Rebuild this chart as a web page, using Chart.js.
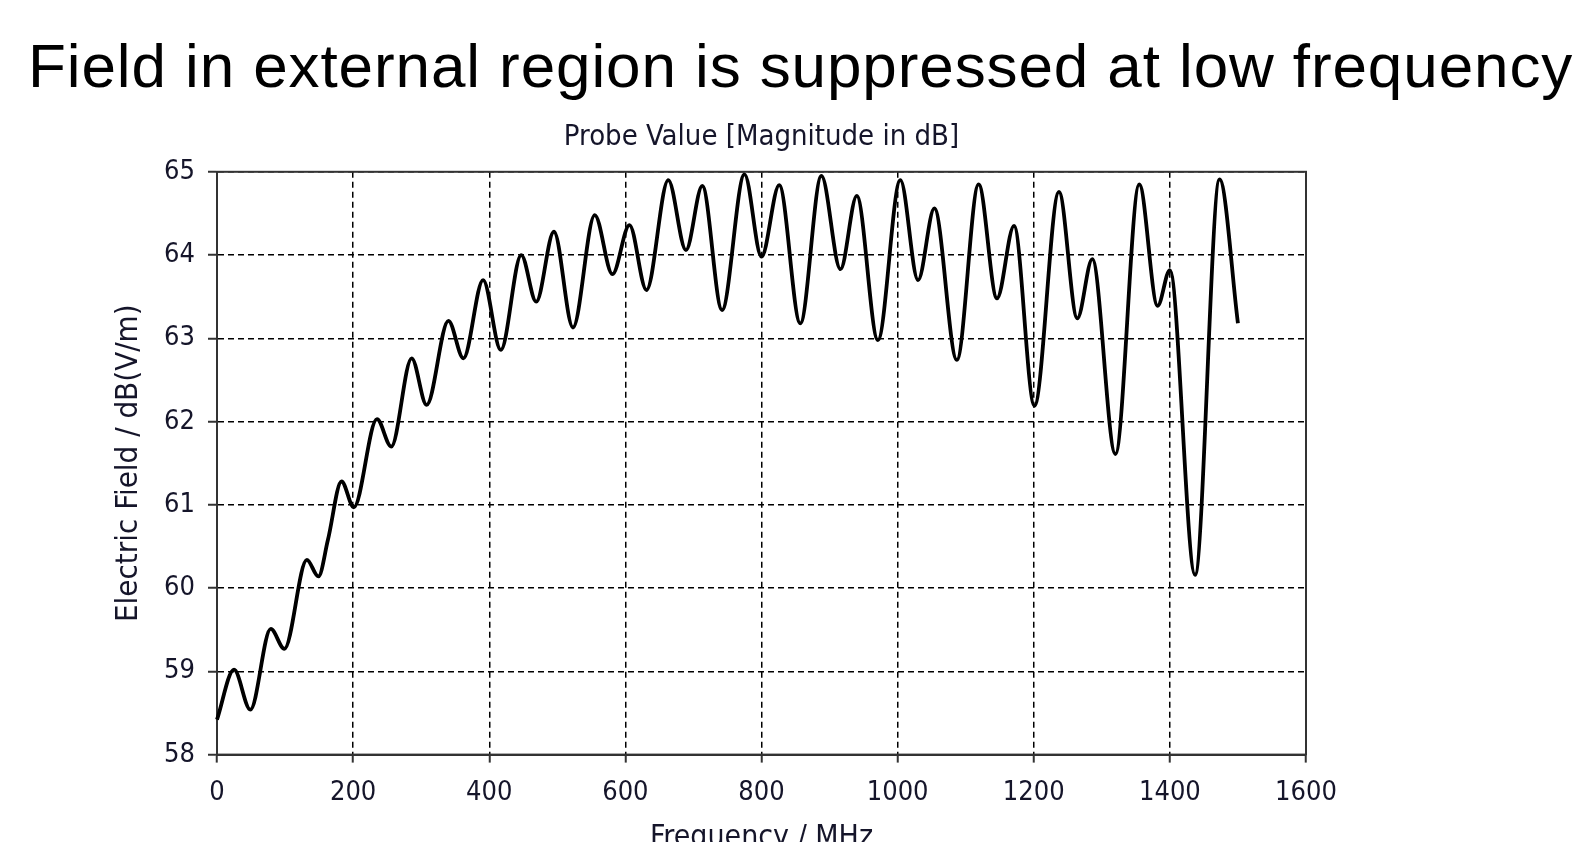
<!DOCTYPE html>
<html>
<head>
<meta charset="utf-8">
<script src="https://cdn.jsdelivr.net/npm/chart.js@4.4.1/dist/chart.umd.min.js"></script>
<style>
  html, body { margin: 0; padding: 0; background: #fff; overflow: hidden; }
  body { width: 1584px; height: 842px; position: relative; }
  #heading {
    position: absolute; left: 28px; top: 35px;
    font-family: "Liberation Sans", Arial, sans-serif;
    font-size: 62px; line-height: 1; letter-spacing: 0.9px;
    color: #000; white-space: nowrap;
  }
  #wrap { position: absolute; left: 0; top: 0; width: 1523px; height: 853px; }
</style>
</head>
<body>
<div id="heading">Field in external region is suppressed at low frequency</div>
<div id="wrap"><canvas id="chart"></canvas></div>
<script>
// Probe curve at its turning points
const freqMHz = [
  0, 25, 49, 79, 99, 132, 149, 163, 183, 201,
  235, 256, 286, 308, 340, 362, 391, 417, 447, 469,
  495, 523, 555, 581, 606, 631, 663, 689, 713, 742,
  775, 800, 826, 857, 888, 916, 940, 971, 1004, 1030,
  1054, 1087, 1119, 1146, 1171, 1201, 1237, 1264, 1286, 1320,
  1355, 1382, 1400, 1437, 1473, 1500
];
const fieldDb = [
  58.42, 59.02, 58.54, 59.51, 59.27, 60.34, 60.14, 60.58, 61.28, 60.97,
  62.03, 61.70, 62.76, 62.20, 63.21, 62.76, 63.70, 62.86, 64.00, 63.44,
  64.28, 63.13, 64.48, 63.77, 64.36, 63.58, 64.90, 64.06, 64.83, 63.34,
  64.97, 63.98, 64.84, 63.18, 64.95, 63.83, 64.71, 62.98, 64.90, 63.70,
  64.56, 62.74, 64.85, 63.48, 64.35, 62.19, 64.76, 63.24, 63.95, 61.61,
  64.85, 63.39, 63.82, 60.16, 64.91, 63.18
];

const xTicks = [0, 200, 400, 600, 800, 1000, 1200, 1400, 1600];
const yTicks = [58, 59, 60, 61, 62, 63, 64, 65];

const labelFont = '"DejaVu Sans Condensed", "DejaVu Sans", sans-serif';
const inkColor = '#15152a';
const axisWidth = 217; // left axis box, mirrored on the right so the title centres over the plot

// Solid frame on top and right, like the original plot box
const frame = {
  id: 'frame',
  beforeDatasetsDraw(chart) {
    const { ctx, chartArea: a } = chart;
    ctx.save();
    ctx.strokeStyle = '#333';
    ctx.lineWidth = 2;
    ctx.strokeRect(a.left, a.top, a.right - a.left, a.bottom - a.top);
    ctx.restore();
  }
};

new Chart(document.getElementById('chart'), {
  type: 'line',
  data: {
    datasets: [{
      data: freqMHz.map((f, i) => ({ x: f, y: fieldDb[i] })),
      borderColor: '#000',
      borderWidth: 3.8,
      pointRadius: 0,
      cubicInterpolationMode: 'monotone',
      clip: 4
    }]
  },
  options: {
    responsive: true,
    maintainAspectRatio: false,
    animation: false,
    layout: { padding: { top: 100, left: 0, right: 0, bottom: 0 } },
    plugins: {
      legend: { display: false },
      tooltip: { enabled: false },
      title: {
        display: true,
        text: 'Probe Value [Magnitude in dB]',
        color: inkColor,
        font: { family: labelFont, size: 29, weight: 'normal' },
        padding: { top: 20, bottom: 17 }
      }
    },
    scales: {
      x: {
        type: 'linear',
        min: xTicks[0],
        max: xTicks[xTicks.length - 1],
        afterBuildTicks: s => { s.ticks = xTicks.map(v => ({ value: v })); },
        grid: {
          color: '#000', lineWidth: 1.5,
          tickLength: 8, tickColor: '#333', tickWidth: 2, tickBorderDash: []
        },
        border: { display: true, color: '#333', width: 2, dash: [6, 4] },
        ticks: {
          color: inkColor, padding: 14,
          font: { family: labelFont, size: 27 },
          callback: v => String(v)
        },
        title: {
          display: true, text: 'Frequency / MHz', color: inkColor,
          font: { family: labelFont, size: 30, lineHeight: 1 },
          padding: { top: 0, bottom: 0 }
        }
      },
      y: {
        min: yTicks[0],
        max: yTicks[yTicks.length - 1],
        afterBuildTicks: s => { s.ticks = yTicks.map(v => ({ value: v })); },
        afterFit: s => { s.width = axisWidth; },
        grid: {
          color: '#000', lineWidth: 1.5,
          tickLength: 9, tickColor: '#333', tickWidth: 2, tickBorderDash: []
        },
        border: { display: true, color: '#333', width: 2, dash: [6, 4] },
        ticks: {
          color: inkColor, padding: 13,
          font: { family: labelFont, size: 27 },
          callback: v => String(v)
        },
        title: {
          display: true, text: 'Electric Field / dB(V/m)', color: inkColor,
          font: { family: labelFont, size: 31 },
          padding: { top: 110, bottom: 0 }
        }
      },
      yRight: {
        position: 'right',
        display: true,
        afterFit: s => { s.width = axisWidth; },
        grid: { display: false },
        ticks: { display: false },
        border: { display: false }
      }
    }
  },
  plugins: [frame]
});
</script>
</body>
</html>
